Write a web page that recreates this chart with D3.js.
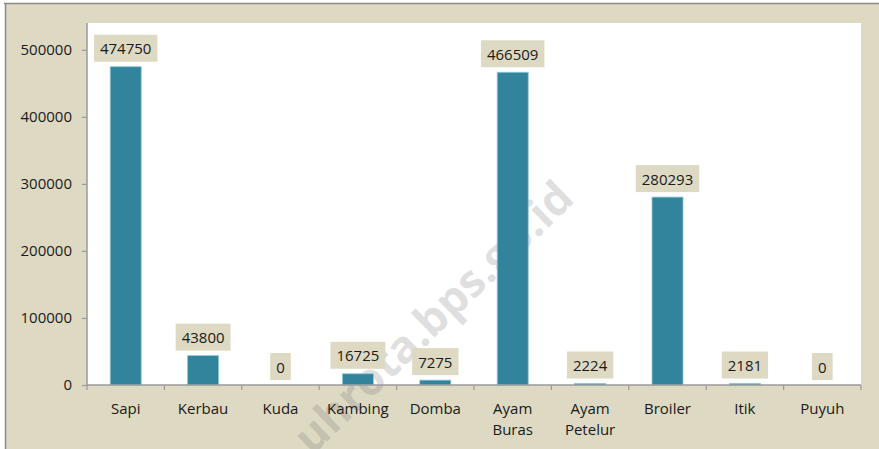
<!DOCTYPE html>
<html>
<head>
<meta charset="utf-8">
<script src="https://cdn.jsdelivr.net/npm/d3@7"></script>
<style>
  html, body { margin: 0; padding: 0; background: #ffffff; }
  svg { display: block; }
  text { font-family: "Open Sans", "Liberation Sans", sans-serif; }
</style>
</head>
<body>
<svg id="chart" width="879" height="449"></svg>
<script>
const categories = ["Sapi", "Kerbau", "Kuda", "Kambing", "Domba", "Ayam Buras", "Ayam Petelur", "Broiler", "Itik", "Puyuh"];
const values = [474750, 43800, 0, 16725, 7275, 466509, 2224, 280293, 2181, 0];
const yTicks = [0, 100000, 200000, 300000, 400000, 500000];
const watermark = "uhrota.bps.go.id";

const W = 879, H = 449;
const plot = { left: 87, right: 861, top: 23, bottom: 385 };
const beige = "#ddd9c3";
const barColor = "#31849b";
const axisColor = "#9a9a9a";

const svg = d3.select("#chart");

// chart background + border
svg.append("rect").attr("x", 5).attr("y", 3).attr("width", W).attr("height", H)
  .attr("fill", beige);
svg.append("line").attr("x1", 4).attr("x2", W).attr("y1", 3.5).attr("y2", 3.5)
  .attr("stroke", "#8a8a8a").attr("stroke-width", 1.5);
svg.append("line").attr("x1", 5.5).attr("x2", 5.5).attr("y1", 3).attr("y2", H)
  .attr("stroke", "#8a8a8a").attr("stroke-width", 1.5);

// plot area
svg.append("rect").attr("x", plot.left).attr("y", plot.top)
  .attr("width", plot.right - plot.left).attr("height", plot.bottom - plot.top)
  .attr("fill", "#ffffff");

// watermark (beneath the marks)
svg.append("text")
  .attr("transform", "translate(312,456) rotate(-44)")
  .attr("font-family", "'Liberation Sans', Arial, sans-serif")
  .attr("font-weight", "bold")
  .attr("font-size", 45)
  .attr("fill", "rgba(110,110,110,0.22)")
  .text(watermark);

const xb = d3.scaleBand().domain(categories).range([plot.left, plot.right]);
const y = d3.scaleLinear().domain([0, 540000]).range([plot.bottom, plot.top]);

// bars
svg.append("g").selectAll("rect").data(values).join("rect")
  .attr("x", (d, i) => xb(categories[i]) + xb.bandwidth() / 2 - 15.5)
  .attr("width", 31)
  .attr("y", d => y(d))
  .attr("height", d => plot.bottom - y(d))
  .attr("fill", barColor)
  .attr("stroke", d => d > 0 ? "#8fc6d6" : "none")
  .attr("stroke-width", 0.8);

// y axis
const yAxis = d3.axisLeft(y).tickValues(yTicks).tickSize(5).tickPadding(10).tickFormat(d3.format("d"));
const gy = svg.append("g").attr("transform", `translate(${plot.left},0)`).call(yAxis);
gy.select(".domain").remove();
gy.append("line").attr("x1", 0).attr("x2", 0).attr("y1", plot.top).attr("y2", plot.bottom)
  .attr("stroke", axisColor).attr("stroke-width", 1.5);
gy.selectAll(".tick line").attr("stroke", axisColor).attr("stroke-width", 1.2);
gy.selectAll(".tick text").attr("font-size", 15).attr("fill", "#1a1a1a")
  .attr("font-family", "'Open Sans', sans-serif");

// x axis
const gx = svg.append("g").attr("transform", `translate(0,${plot.bottom})`);
gx.append("line").attr("x1", plot.left).attr("x2", plot.right).attr("y1", 0).attr("y2", 0)
  .attr("stroke", axisColor).attr("stroke-width", 1.5);
const bounds = categories.map(c => xb(c)).concat([plot.right]);
gx.selectAll("line.tk").data(bounds).join("line").attr("class", "tk")
  .attr("x1", d => d).attr("x2", d => d).attr("y1", 0).attr("y2", 5)
  .attr("stroke", axisColor).attr("stroke-width", 1.2);
const xl = gx.selectAll("text.xl").data(categories).join("text").attr("class", "xl")
  .attr("x", d => xb(d) + xb.bandwidth() / 2)
  .attr("y", 28.5)
  .attr("text-anchor", "middle")
  .attr("font-size", 15)
  .attr("fill", "#1a1a1a");
xl.each(function(d) {
  const parts = d.split(" ");
  const t = d3.select(this);
  parts.forEach((p, k) => {
    t.append("tspan").attr("x", xb(d) + xb.bandwidth() / 2).attr("dy", k === 0 ? 0 : 21.8).text(p);
  });
});

// data labels
const lg = svg.append("g").selectAll("g").data(values).join("g")
  .attr("transform", (d, i) => `translate(${xb(categories[i]) + xb.bandwidth() / 2},${y(d) - 5})`);
lg.each(function(d) {
  const g = d3.select(this);
  const t = g.append("text").attr("text-anchor", "middle").attr("y", -13.5)
    .attr("dominant-baseline", "central").attr("font-size", 15).attr("fill", "#1a1a1a")
    .text(String(d));
  const w = t.node().getComputedTextLength() + 12;
  g.insert("rect", "text").attr("x", -w / 2).attr("y", -27).attr("width", w).attr("height", 27)
    .attr("fill", beige);
});
</script>
</body>
</html>
